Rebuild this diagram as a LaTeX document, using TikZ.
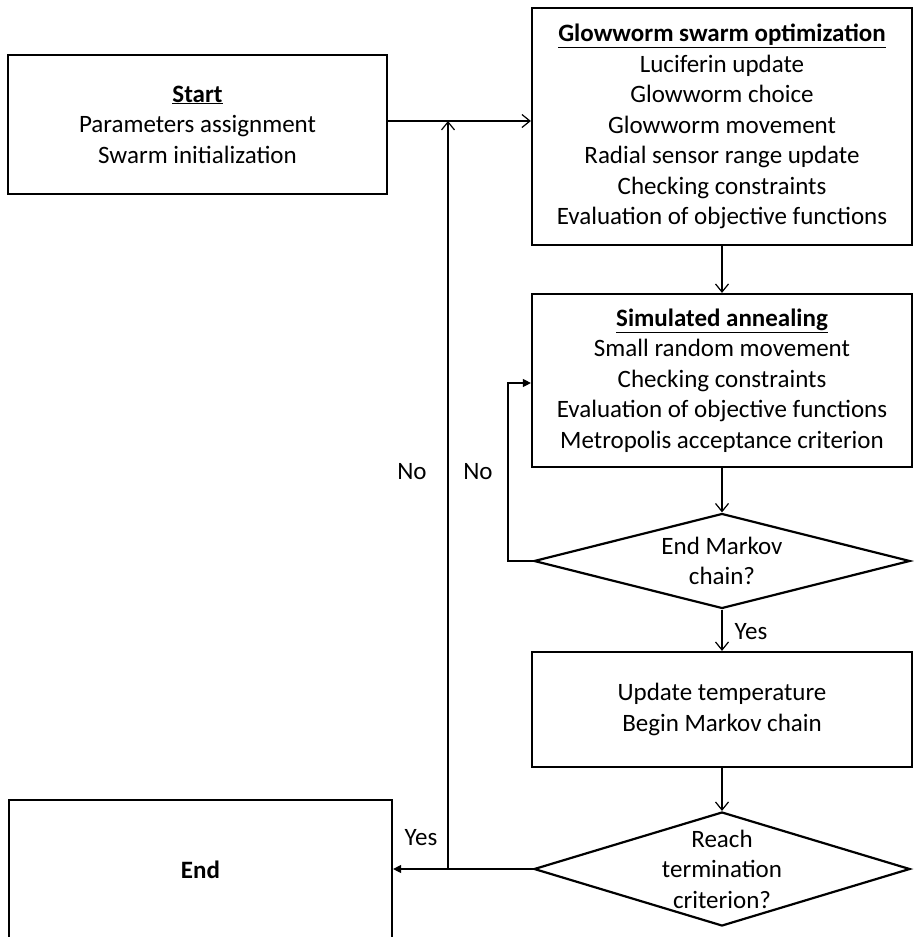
\documentclass[tikz,border=0pt]{standalone}
\usepackage{fontspec}
\setmainfont{Carlito}
\usetikzlibrary{arrows.meta,shapes.geometric}
\begin{document}
\begin{tikzpicture}[x=1pt,y=-1pt,
  font=\fontsize{25}{30.5}\selectfont,
  box/.style={draw, line width=2.2pt, align=center, inner sep=0pt},
  dia/.style={draw, diamond, line width=2.2pt, inner sep=0pt},
  lbl/.style={inner sep=0pt},
  txt/.style={align=center, inner sep=0pt},
  conn/.style={line width=1.2pt},
  oarr/.style={conn, -{Straight Barb[length=8pt,width=13pt,line width=1.2pt]}},
  farr/.style={conn, -{Triangle[length=8pt,width=8pt]}}]
\useasboundingbox (0,0) rectangle (913,937);

\node[box, minimum width=379pt, minimum height=139pt] (start) at (197.5,124.5)
  {\underline{\textbf{Start}}\\Parameters assignment\\Swarm initialization};
\node[box, minimum width=380pt, minimum height=237pt] (gso) at (722,126.5)
  {\underline{\textbf{Glowworm swarm optimization}}\\Luciferin update\\Glowworm choice\\Glowworm movement\\Radial sensor range update\\Checking constraints\\Evaluation of objective functions};
\node[box, minimum width=380pt, minimum height=173pt] (sa) at (722,380.5)
  {\underline{\textbf{Simulated annealing}}\\Small random movement\\Checking constraints\\Evaluation of objective functions\\Metropolis acceptance criterion};
\node[dia, minimum width=376pt, minimum height=95pt] (d1) at (722,561) {};
\node[txt] (d1t) at (d1.center) {End Markov\\chain?};
\node[box, minimum width=380pt, minimum height=115pt] (upd) at (722,709.5)
  {Update temperature\\Begin Markov chain};
\node[dia, minimum width=376pt, minimum height=114pt] (d2) at (722,869) {};
\node[txt] (d2t) at (d2.center) {Reach\\termination\\criterion?};
\node[box, minimum width=383pt, minimum height=140pt] (endb) at (200.5,870) {\textbf{End}};

\coordinate (j1) at (448,121);
\coordinate (j2) at (448,869);
\coordinate (j3) at (508,383);

\draw[oarr] (start.east |- j1) -- (gso.west |- j1);
\draw[oarr] (j2) -- (j1);
\draw[farr] (d2.west) -- (endb.east |- d2.west);
\draw[oarr] (gso.south) -- (sa.north);
\draw[oarr] (sa.south) -- (d1.north);
\draw[oarr] (d1.south) -- (upd.north);
\draw[oarr] (upd.south) -- (d2.north);
\draw[farr] (d1.west) -- (j3 |- d1.west) -- (j3) -- (sa.west |- j3);

\node[lbl] (no1) at (412,472) {No};
\node[lbl] (no2) at (478,472) {No};
\node[lbl] (yes1) at (751,632) {Yes};
\node[lbl] (yes2) at (421,838) {Yes};
\end{tikzpicture}
\end{document}
